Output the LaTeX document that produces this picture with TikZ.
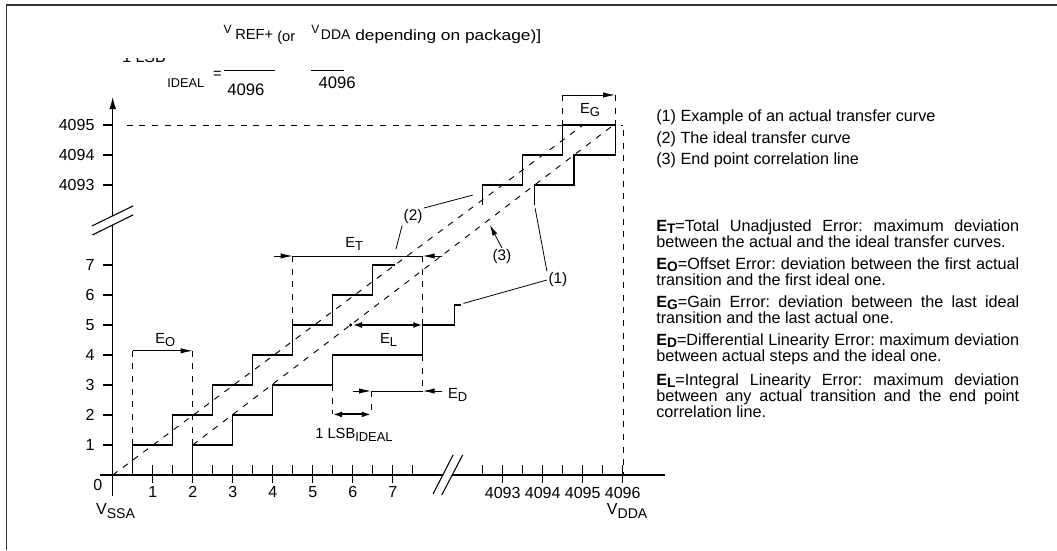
\documentclass[tikz,border=0pt]{standalone}
\usepackage{fontspec}
\usepackage{graphicx}
\setmainfont{Liberation Sans}
\usetikzlibrary{arrows.meta, positioning}

\hbadness=10000
\frenchspacing
\newcommand{\lowsub}[1]{\raisebox{-2.4pt}{\scalebox{.88}{#1}}}
\newcommand{\defsub}[1]{\raisebox{-1.6pt}{\scalebox{.85}{#1}}}
\newcommand{\jline}[1]{\hbox to 272.25pt{#1}}

\def\uxOff{4083.25}
\def\uyOff{4083.333}

\tikzset{
  axis/.style={line width=.8pt},
  stair/.style={line width=.9pt},
  guide/.style={line width=.7pt, dash pattern=on 4.5pt off 5pt},
  errarrow/.style={line width=.7pt, -{Latex[length=9pt, width=4pt]}},
  widearrow/.style={line width=1.5pt, {Latex[length=7pt, width=4.5pt]}-{Latex[length=7pt, width=4.5pt]}},
  fml/.style={inner sep=0pt, font=\fontsize{#1}{14pt}\selectfont},
  ticklabel/.style={inner sep=0pt, font=\fontsize{12pt}{14pt}\selectfont},
  errlabel/.style={inner sep=0pt, anchor=base west, font=\fontsize{11pt}{13pt}\selectfont},
  curvelabel/.style={inner sep=1pt, font=\fontsize{11.5pt}{13pt}\selectfont},
  legend/.style={inner sep=0pt, anchor=base west, font=\fontsize{12.15pt}{16pt}\selectfont},
  defs/.style={inner sep=0pt, anchor=base west, align=left, font=\fontsize{12.15pt}{12pt}\selectfont},
}

\begin{document}
\begin{tikzpicture}[x=.75pt, y=-.75pt]
  \useasboundingbox (0, 0) rectangle (1057, 550);
  % -- frame
  \draw[line width=1.1pt, black!80] (6.7, 550) -- (6.7, 5) -- (1057, 5);

  % -- LSB formula (its first line is cut off)
  \begin{scope}
    \clip (110, 58.5) rectangle (180, 66);
    \node[fml=12pt, anchor=base west] (lsbCut) at (122, 62) {1 LSB};
  \end{scope}
  \node[fml=9.6pt, anchor=base west] (idealSub) at (167, 87.3) {IDEAL};
  \node[fml=11pt] (eqSign) at (217.5, 74.5) {=};
  \node[fml=9pt, anchor=base west] (vRef) at (223.3, 33.3) {V};
  \node[fml=11pt, anchor=base west] (refSub) at (235, 39.3) {REF+};
  \node[fml=11pt, anchor=base west] (orTxt) at (277, 41) {(or};
  \node[fml=9pt, anchor=base west] (vDda) at (311, 33.3) {V};
  \node[fml=10.5pt, anchor=base west] (ddaSub) at (320.7, 39.3) {DDA};
  \node[fml=11.2pt, anchor=base west] (pkgTxt) at (355, 40.7) {\scalebox{1.16}[1]{depending on package)]}};
  \node[fml=12.5pt, anchor=base west] (denOne) at (227, 95) {4096};
  \node[fml=12.5pt, anchor=base west] (denTwo) at (318.3, 88.5) {4096};
  \draw[line width=.8pt] (224, 70.7) -- (275, 70.7);
  \draw[line width=.8pt] (311, 70.7) -- (344, 70.7);

  \begin{scope}[shift={(112.7, 475)}, x=30pt, y=22.5pt]
    % -- axes, with their breaks
    \draw[axis] (0, -.7) -- (0, 8.33);
    \draw[axis, -{Latex[length=9pt, width=5pt]}] (0, 8.63) -- (0, 12.6);
    \draw[axis] (-.51, 8.0) -- (.51, 8.67);
    \draw[axis] (-.52, 8.3) -- (.51, 8.97);
    \draw[axis] (-.32, 0) -- (8.25, 0);
    \draw[axis, line width=1.2pt] (8.49, 0) -- (13.81, 0);
    \draw[axis] (8.01, -.63) -- (8.51, .67);
    \draw[axis] (8.225, -.67) -- (8.75, .67);

    \foreach\k in {1, ..., 7} {
      \draw[axis] (-.25, \k) -- (0, \k);
      \node[ticklabel, anchor=east] (yl\k) at (-.45, \k) {\k};
    }
    \foreach\n in {4093, 4094, 4095} {
      \draw[axis] (-.25, \n - \uyOff) -- (0, \n - \uyOff);
      \node[ticklabel, anchor=east] (yl\n) at (-.45, \n - \uyOff) {\n};
    }

    \foreach\i in {1, ..., 15} \draw[axis] (\i / 2, 0) -- ++(0, .333);
    \foreach\i in {1, ..., 7} {
      \draw[axis] (\i, 0) -- ++(0, -.27);
      \node[ticklabel, anchor=north] (xl\i) at (\i, -.38) {\i};
    }
    \foreach\i in {0, ..., 7} \draw[axis] (9.25 + \i / 2, 0) -- ++(0, .333);
    \foreach\n in {4093, ..., 4096} {
      \draw[axis] (\n - \uxOff, 0) -- ++(0, -.27);
      \node[ticklabel, anchor=north] (xl\n) at (\n - \uxOff, -.4) {\n};
    }
    \node[ticklabel] (zero) at (-.37, -.33) {0};
    \node[ticklabel, anchor=base west] (vssa) at (-.42, -1.33) {V\lowsub{SSA}};
    \node[ticklabel, anchor=base west] (vdda) at (12.35, -1.33) {V\lowsub{DDA}};

    % -- ideal transfer curve (2)
    \draw[stair] (.5, 0)
      \foreach\i in {0, ..., 5} { -- (\i + .5, \i + 1) -- (\i + 1.5, \i + 1) }
      -- (6.5, 7) -- (7.06, 7);
    \draw[stair] (9.25, 9) -- (9.25, 9.667) -- (10.25, 9.667) -- (10.25, 10.667)
      -- (11.25, 10.667) -- (11.25, 11.667) -- (12.56, 11.667);

    % -- actual transfer curve (1)
    \draw[stair] (2, 0) -- (2, 1) -- (3, 1) -- (3, 2) -- (4, 2) -- (4, 3)
      -- (5.5, 3) -- (5.5, 4) -- (7.75, 4) -- (7.75, 5) -- (8.55, 5)
      -- (8.55, 5.67) -- (8.7, 5.67);
    \draw[stair] (10.54, 9) -- (10.54, 9.667) -- (11.53, 9.667) -- (11.53, 10.667)
      -- (12.56, 10.667) -- (12.56, 11.667);

    % -- dashed lines
    \draw[guide] (0, 0) -- (11.76, 11.667);
    \draw[guide] (2, 1) -- (12.52, 11.667);
    \draw[guide] (.35, 11.667) -- (12.76, 11.667);
    \draw[guide] (12.76, 11.5) -- (12.76, 0);

    % -- E_O
    \coordinate (oL) at (.5, 4.14);
    \coordinate (oR) at (2, 4.14);
    \draw[guide] (oL) -- (.5, 1);
    \draw[guide] (oR) -- (2, 1);
    \draw[errarrow] (oL) -- (oR);
    \node[errlabel] (eO) at (1.06, 4.39) {E\lowsub{O}};

    % -- E_T
    \coordinate (tL) at (4.5, 7.3);
    \coordinate (tR) at (7.75, 7.3);
    \draw[guide] (tL) -- (4.5, 5);
    \draw[guide] (tR) -- (7.75, 5);
    \draw[line width=.7pt] (tL) -- (tR);
    \draw[errarrow] (4.03, 7.3) -- (tL);
    \draw[errarrow] (8.225, 7.3) -- (tR);
    \node[errlabel] (eT) at (5.81, 7.59) {E\lowsub{T}};

    % -- E_L
    \coordinate (lL) at (6.0, 5);
    \coordinate (lR) at (7.75, 5);
    \fill (5.95, 5) circle[radius=1.3pt];
    \draw[widearrow] (lL) -- (lR);
    \node[errlabel] (eL) at (6.68, 4.39) {E\lowsub{L}};

    % -- E_D and 1 LSB
    \coordinate (dL) at (6.46, 2.8);
    \coordinate (dR) at (7.75, 2.8);
    \draw[guide] (7.75, 4) -- (dR);
    \draw[line width=.7pt] (dL) -- (dR);
    \draw[errarrow] (6.0, 2.8) -- (dL);
    \draw[errarrow] (8.23, 2.8) -- (dR);
    \node[errlabel] (eD) at (8.38, 2.56) {E\lowsub{D}};
    \coordinate (sL) at (5.5, 2.02);
    \coordinate (sR) at (6.46, 2.02);
    \draw[guide] (5.5, 3) -- (sL);
    \draw[guide] (dL) -- (sR);
    \draw[widearrow] (sL) -- (sR);
    \node[errlabel] (lsb) at (5.06, 1.22) {1 LSB\lowsub{IDEAL}};

    % -- E_G
    \coordinate (gL) at (11.25, 12.667);
    \coordinate (gR) at (12.56, 12.667);
    \draw[guide] (gL) -- (11.25, 11.667);
    \draw[guide] (gR) -- (12.56, 11.667);
    \draw[errarrow] (gL) -- (gR);
    \node[errlabel] (eG) at (11.68, 12.06) {E\lowsub{G}};

    % -- curve labels
    \node[curvelabel] (lblTwo) at (7.51, 8.61) {(2)};
    \coordinate (twoUp) at (9.0, 9.33);
    \coordinate (twoDown) at (7.08, 7.52);
    \draw[line width=.6pt] (lblTwo.north east) -- (twoUp);
    \draw[line width=.6pt] (lblTwo.south west) -- (twoDown);

    \node[curvelabel] (lblThree) at (9.73, 7.28) {(3)};
    \coordinate (threeTip) at (9.43, 8.33);
    \draw[line width=.6pt, -{Latex[length=8pt, width=4pt]}] (lblThree.north) -- (threeTip);

    \node[curvelabel] (lblOne) at (11.13, 6.5) {(1)};
    \coordinate (oneUp) at (10.56, 8.89);
    \coordinate (oneDown) at (8.77, 5.72);
    \draw[line width=.6pt] (lblOne.north west) -- (oneUp);
    \draw[line width=.6pt] (lblOne.west) -- (oneDown);
  \end{scope}

  % -- legend
  \node[legend] (legOne) at (656, 121.7) {(1) Example of an actual transfer curve};
  \node[legend] (legTwo) at (656, 143.2) {(2) The ideal transfer curve};
  \node[legend] (legThree) at (656, 164.7) {(3) End point correlation line};

  % -- error definitions (placed by the baseline of their last line)
  \node[defs] (defT) at (656, 247.3) {\jline{\textbf{E\defsub{T}}=Total Unadjusted Error: maximum deviation}\\
    between the actual and the ideal transfer curves.};
  \node[defs] (defO) at (656, 285) {\jline{\textbf{E\defsub{O}}=Offset Error: deviation between the first actual}\\
    transition and the first ideal one.};
  \node[defs] (defG) at (656, 323.3) {\jline{\textbf{E\defsub{G}}=Gain Error: deviation between the last ideal}\\
    transition and the last actual one.};
  \node[defs] (defD) at (656, 361.7) {\jline{\textbf{E\defsub{D}}=Differential Linearity Error: maximum deviation}\\
    between actual steps and the ideal one.};
  \node[defs] (defL) at (656, 417) {\jline{\textbf{E\defsub{L}}=Integral Linearity Error: maximum deviation}\\
    \jline{between any actual transition and the end point}\\
    correlation line.};
\end{tikzpicture}
\end{document}
